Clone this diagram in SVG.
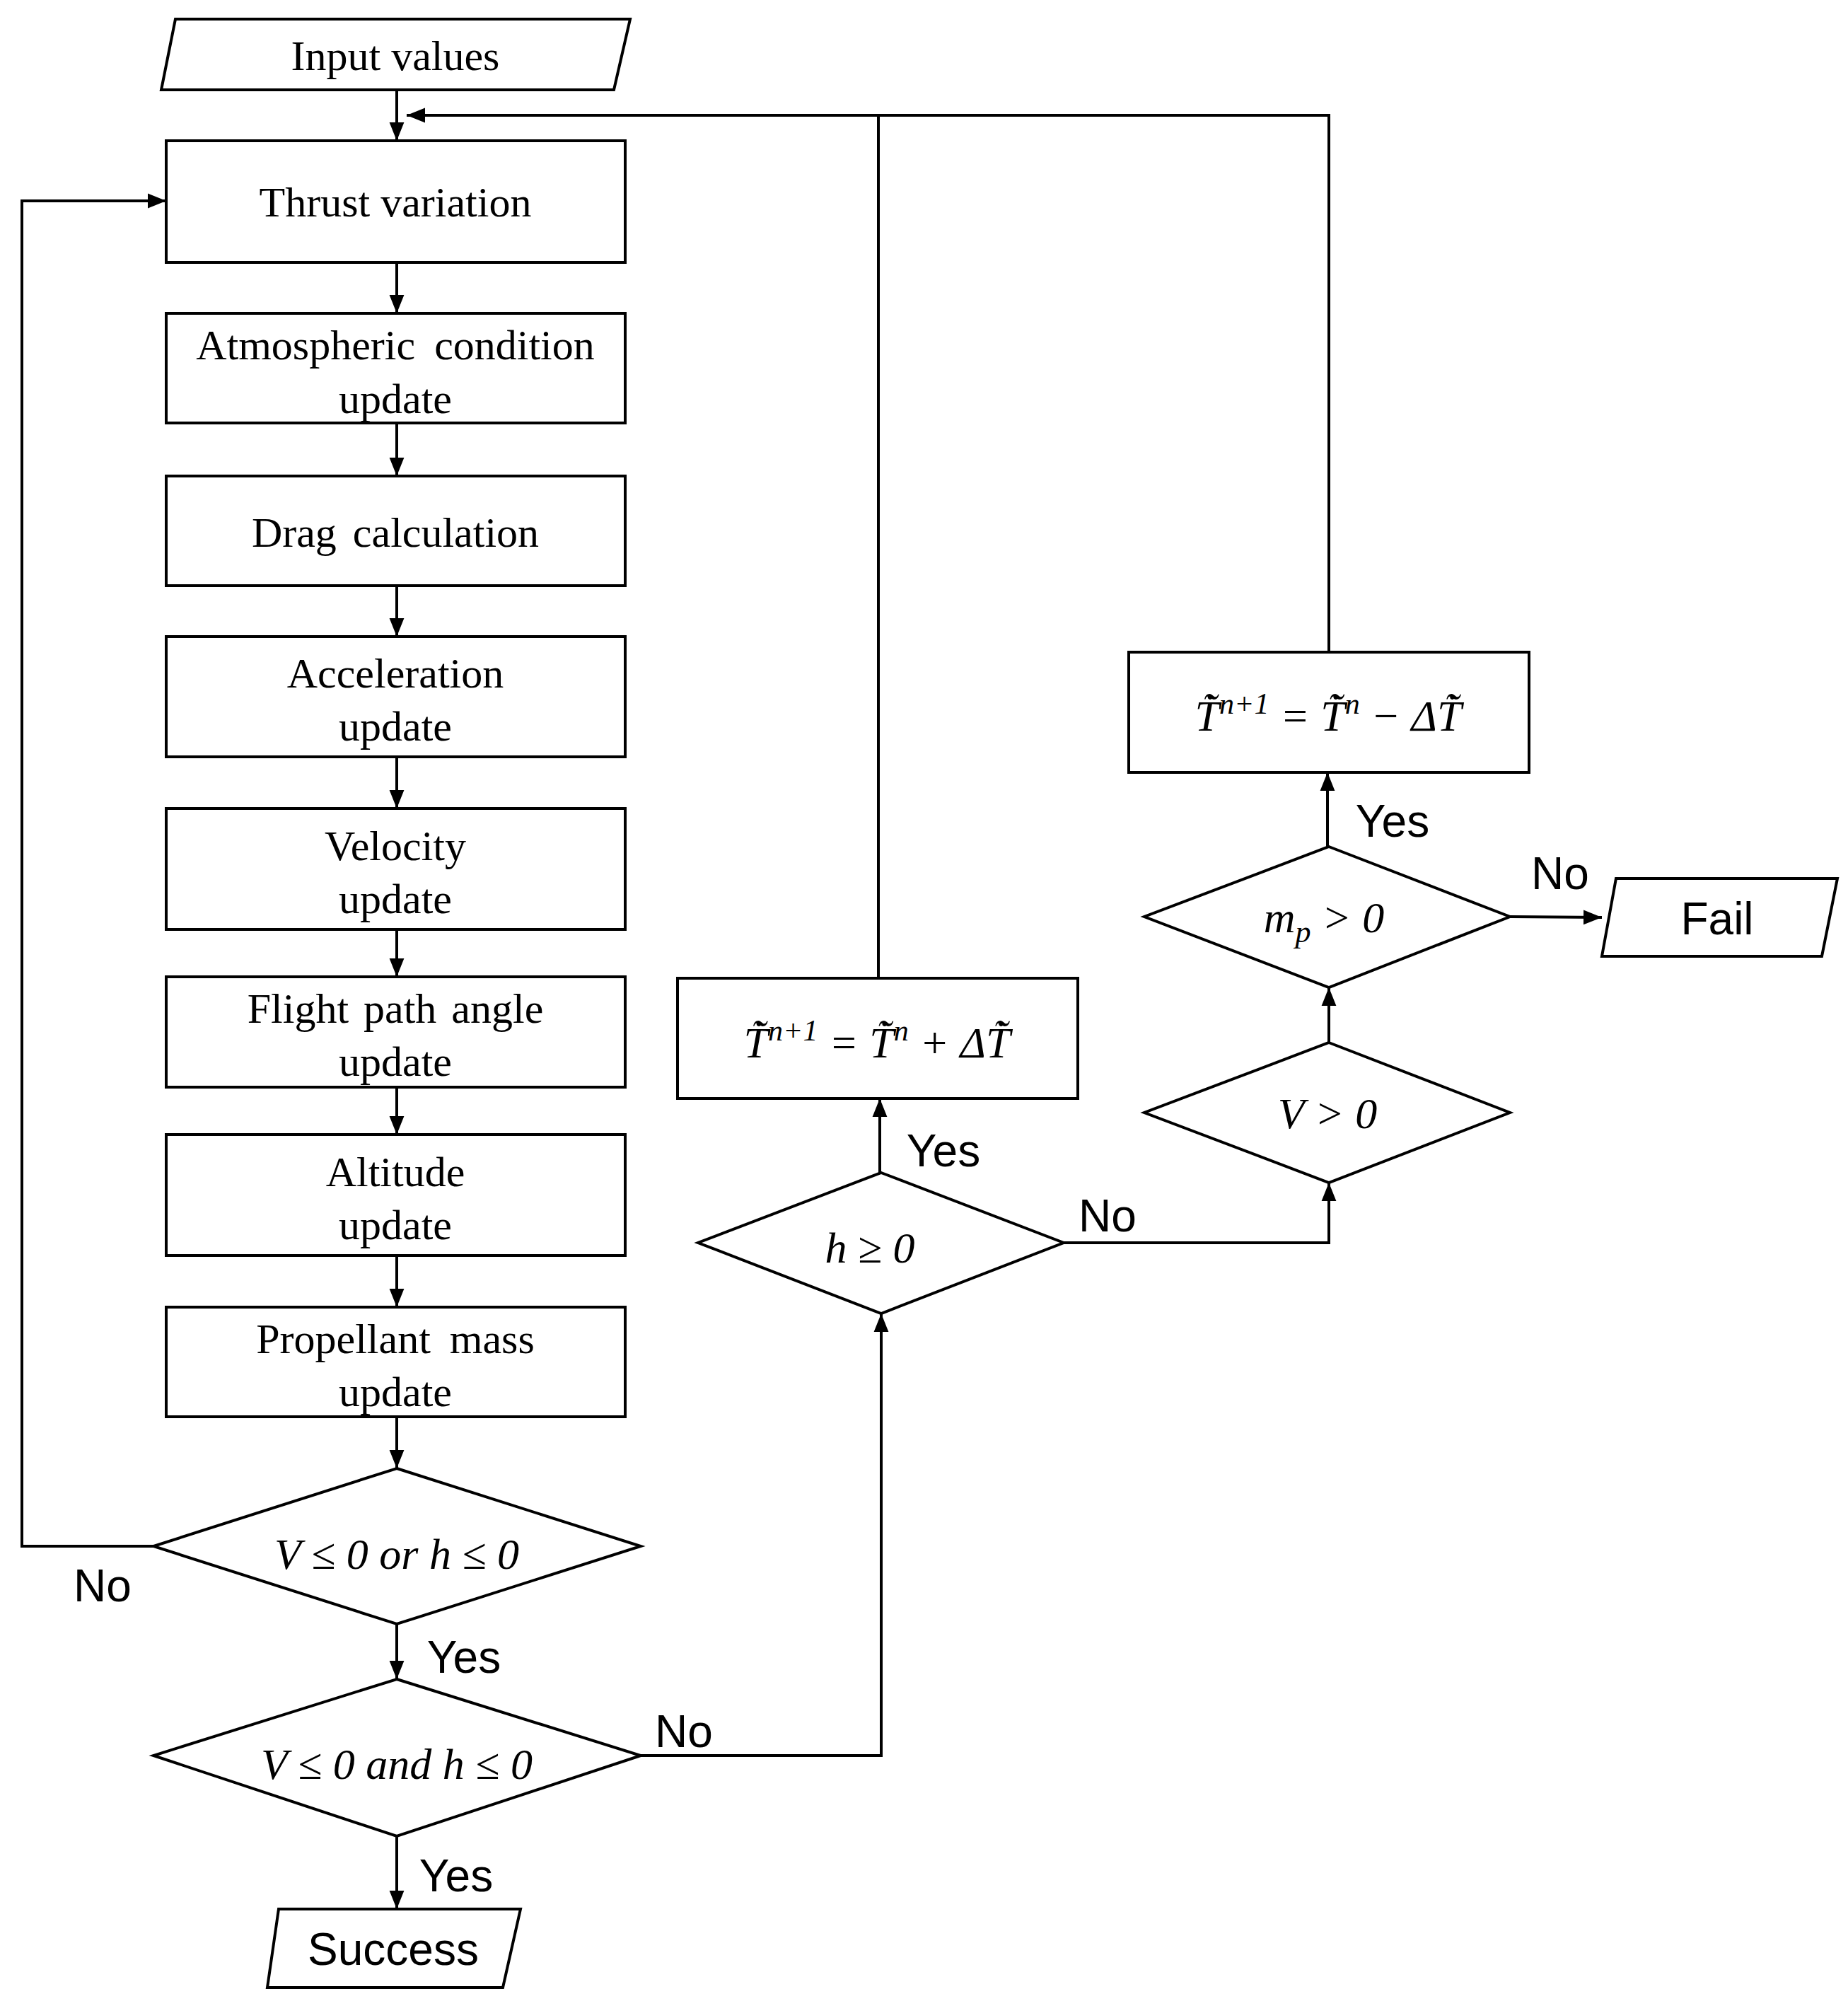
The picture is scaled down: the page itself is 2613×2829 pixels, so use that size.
<svg xmlns="http://www.w3.org/2000/svg" width="2613" height="2829" viewBox="0 0 2613 2829">
<defs>
<marker id="a" viewBox="0 0 10 10" refX="10" refY="5" markerWidth="26" markerHeight="26" markerUnits="userSpaceOnUse" orient="auto"><path d="M0,1 L10,5 L0,9 z" fill="#000"/></marker>
<style>
.s{fill:#fff;stroke:#000;stroke-width:4}
.t{font-family:"Liberation Serif",serif;font-size:60px;text-anchor:middle;fill:#000}
.m{font-family:"Liberation Serif","DejaVu Serif",serif;font-size:62px;font-style:italic;text-anchor:middle;fill:#000}
.l{font-family:"Liberation Sans Narrow","Liberation Sans",sans-serif;font-size:64px;text-anchor:middle;fill:#000}
.c{fill:none;stroke:#000;stroke-width:4;marker-end:url(#a)}
.n{fill:none;stroke:#000;stroke-width:4}
</style>
</defs>
<rect width="2613" height="2829" fill="#fff"/>
<g id="input"><polygon class="s" points="248,27 891,27 868,127 228,127"/><text class="t" x="559" y="99">Input values</text></g>
<g id="thrust"><rect class="s" x="235" y="199" width="649" height="172"/><text class="t" x="559" y="306">Thrust variation</text></g>
<g id="atmos"><rect class="s" x="235" y="443" width="649" height="155"/><text class="t" x="559" y="508" word-spacing="12">Atmospheric condition</text><text class="t" x="559" y="584">update</text></g>
<g id="drag"><rect class="s" x="235" y="673" width="649" height="155"/><text class="t" x="559" y="773" word-spacing="8">Drag calculation</text></g>
<g id="accel"><rect class="s" x="235" y="900" width="649" height="170"/><text class="t" x="559" y="972">Acceleration</text><text class="t" x="559" y="1047">update</text></g>
<g id="vel"><rect class="s" x="235" y="1143" width="649" height="171"/><text class="t" x="559" y="1216">Velocity</text><text class="t" x="559" y="1291">update</text></g>
<g id="fpa"><rect class="s" x="235" y="1381" width="649" height="156"/><text class="t" x="559" y="1446" word-spacing="6">Flight path angle</text><text class="t" x="559" y="1521">update</text></g>
<g id="alt"><rect class="s" x="235" y="1604" width="649" height="171"/><text class="t" x="559" y="1677">Altitude</text><text class="t" x="559" y="1752">update</text></g>
<g id="prop"><rect class="s" x="235" y="1848" width="649" height="155"/><text class="t" x="559" y="1913" word-spacing="12">Propellant mass</text><text class="t" x="559" y="1988">update</text></g>
<g id="d1"><polygon class="s" points="561,2076 906,2186 561,2296 217,2186"/><text class="m" x="561" y="2218">V ≤ 0 or h ≤ 0</text></g>
<g id="d2"><polygon class="s" points="561,2374 906,2482 561,2596 217,2482"/><text class="m" x="561" y="2515">V ≤ 0 and h ≤ 0</text></g>
<g id="success"><polygon class="s" points="394,2699 736,2699 711,2810 378,2810"/><text class="l" x="556" y="2778">Success</text></g>
<g id="hge"><polygon class="s" points="1246,1658 1504,1757 1246,1857 987,1757"/><text class="m" x="1230" y="1785">h ≥ 0</text></g>
<g id="plus"><rect class="s" x="958" y="1383" width="566" height="170"/><text class="m" x="1240" y="1495">T̃̇<tspan font-size="42" dy="-24">n+1</tspan><tspan dy="24"> = T̃̇</tspan><tspan font-size="42" dy="-24">n</tspan><tspan dy="24"> + ΔT̃̇</tspan></text></g>
<g id="vgt"><polygon class="s" points="1879,1474 2135,1573 1879,1672 1618,1573"/><text class="m" x="1877" y="1595">V &gt; 0</text></g>
<g id="mp"><polygon class="s" points="1879,1197 2135,1296 1879,1396 1618,1296"/><text class="m" x="1872" y="1318">m<tspan font-size="44" dy="14">p</tspan><tspan dy="-14"> &gt; 0</tspan></text></g>
<g id="minus"><rect class="s" x="1596" y="922" width="566" height="170"/><text class="m" x="1878" y="1033">T̃̇<tspan font-size="42" dy="-24">n+1</tspan><tspan dy="24"> = T̃̇</tspan><tspan font-size="42" dy="-24">n</tspan><tspan dy="24"> − ΔT̃̇</tspan></text></g>
<g id="fail"><polygon class="s" points="2285,1242 2598,1242 2576,1352 2265,1352"/><text class="l" x="2428" y="1321">Fail</text></g>
<g id="connectors">
<path class="c" d="M561,127 V199"/>
<path class="c" d="M561,371 V443"/>
<path class="c" d="M561,598 V673"/>
<path class="c" d="M561,828 V900"/>
<path class="c" d="M561,1070 V1143"/>
<path class="c" d="M561,1314 V1381"/>
<path class="c" d="M561,1537 V1604"/>
<path class="c" d="M561,1775 V1848"/>
<path class="c" d="M561,2003 V2076"/>
<path class="c" d="M561,2296 V2374"/>
<path class="c" d="M561,2596 V2699"/>
<path class="c" d="M217,2186 H31 V284 H235"/>
<path class="c" d="M906,2482 H1246 V1857"/>
<path class="c" d="M1244,1658 V1553"/>
<path class="n" d="M1242,1383 V163"/>
<path class="c" d="M1879,922 V163 H575"/>
<path class="c" d="M1504,1757 H1879 V1672"/>
<path class="c" d="M1879,1474 V1396"/>
<path class="c" d="M1877,1197 V1092"/>
<path class="c" d="M2135,1296 L2265,1297"/>
</g>
<g id="labels">
<text class="l" x="145" y="2264">No</text>
<text class="l" x="656" y="2365">Yes</text>
<text class="l" x="645" y="2674">Yes</text>
<text class="l" x="967" y="2470">No</text>
<text class="l" x="1334" y="1649">Yes</text>
<text class="l" x="1566" y="1741">No</text>
<text class="l" x="1969" y="1183">Yes</text>
<text class="l" x="2206" y="1257">No</text>
</g>
</svg>
